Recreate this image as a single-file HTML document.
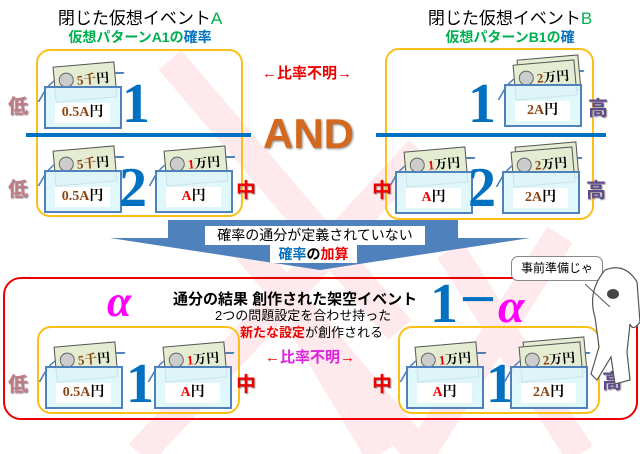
<!DOCTYPE html>
<html><head><meta charset="utf-8"><style>
*{margin:0;padding:0;box-sizing:border-box}
body{width:640px;height:454px;background:#fff;position:relative;overflow:hidden;font-family:"Liberation Sans","Noto Sans CJK JP",sans-serif}
.a{position:absolute;white-space:nowrap}
.env{position:absolute;width:78px;height:43px}
.flap{position:absolute;left:2px;top:-14px;width:70px;height:30px;border-top:2px solid #4f81bd;border-left:2px solid #4f81bd;border-radius:20px 0 0 0;transform:skewX(-30deg)}
.bill{position:absolute;left:10px;top:-22px;width:62px;height:36px;background:#e4ecd2;border:1px solid #555;transform:rotate(-5deg);font:bold 13px "Liberation Serif","Noto Serif CJK SC",serif;padding:4px 0 0 22px;color:#000}
.bill2{position:absolute;left:14px;top:-27px;width:62px;height:36px;background:#e4ecd2;border:1px solid #555;transform:rotate(-5deg)}
.bill:before{content:"";position:absolute;left:4px;top:6px;width:13px;height:13px;border-radius:50%;border:1px solid #666;background:#ccc}
.front{position:absolute;left:0;top:0;width:78px;height:43px;background:rgba(220,246,252,.88);border:2px solid #4f81bd}
.lab{position:absolute;left:11px;top:17px;width:55px;height:20px;background:#fff;text-align:center;font:bold 14px "Liberation Serif","Noto Serif CJK SC",serif;line-height:20px;color:#000}
.br{color:#8b4513}.rd{color:#e00}
.big{position:absolute;font:bold 56px "Liberation Serif",serif;color:#0070c0;line-height:1}
.lo{position:absolute;font:bold 20px "Noto Sans CJK JP",sans-serif;color:#c07a85;text-shadow:1px 1px 1px #999}
.hi{position:absolute;font:bold 20px "Noto Sans CJK JP",sans-serif;color:#5f4b8b;text-shadow:1px 1px 1px #999}
.mid{position:absolute;font:bold 20px "Noto Sans CJK JP",sans-serif;color:#e00;text-shadow:1px 1px 1px #999}
.ob{position:absolute;border:2px solid #fbbf1a;border-radius:14px}
</style></head><body>
<svg class="a" style="left:0;top:0" width="640" height="454">
<g stroke="#feeaec" stroke-width="30" stroke-linecap="butt">
<line x1="170" y1="60" x2="400" y2="330"/>
<line x1="420" y1="150" x2="140" y2="454"/>
<line x1="240" y1="240" x2="420" y2="454"/>
<line x1="450" y1="250" x2="580" y2="454"/>
<line x1="560" y1="235" x2="420" y2="454"/>
<line x1="300" y1="320" x2="380" y2="454"/>
</g>
<polygon points="168,220 458,220 458,238 530,238 320,270 110,238 168,238" fill="#4f81bd"/>
</svg>
<div class="a" style="left:0;width:280px;top:4px;text-align:center;font-size:17px;font-weight:normal">閉じた仮想イベント<span style="color:#00b050">A</span></div>
<div class="a" style="left:0;width:280px;top:27px;text-align:center;font-size:14px;font-weight:bold;color:#00b050">仮想パターンA1の<span style="color:#0070c0">確率</span></div>
<div class="a" style="left:380px;width:260px;top:4px;text-align:center;font-size:17px;font-weight:normal">閉じた仮想イベント<span style="color:#00b050">B</span></div>
<div class="a" style="left:380px;width:260px;top:27px;text-align:center;font-size:14px;font-weight:bold;color:#00b050">仮想パターンB1の<span style="color:#0070c0">確</span></div>
<div class="ob" style="left:36px;top:49px;width:207px;height:168px"></div>
<div class="ob" style="left:385px;top:48px;width:209px;height:172px"></div>
<div class="a" style="left:26px;top:133px;width:225px;height:4px;background:#0070c0"></div>
<div class="a" style="left:376px;top:133px;width:230px;height:4px;background:#0070c0"></div>
<div class="a" style="left:263px;top:110px;font:bold 42px 'Liberation Sans',sans-serif;color:#d2691e;text-shadow:1px 1px 2px #888">AND</div>
<div class="a" style="left:262px;top:62px;font-size:15px;font-weight:bold;color:#e00">←比率不明→</div>
<div class="env" style="left:44px;top:86px"><div class="flap"></div><div class="bill"><span class="br">5</span><span class="br">千</span>円</div><div class="front"></div><div class="lab"><span class="br">0.5A</span>円</div></div>
<div class="big" style="left:122px;top:76px">1</div>
<div class="lo" style="left:8px;top:90px">低</div>
<div class="env" style="left:44px;top:170px"><div class="flap"></div><div class="bill"><span class="br">5千</span>円</div><div class="front"></div><div class="lab"><span class="br">0.5A</span>円</div></div>
<div class="big" style="left:119px;top:160px">2</div>
<div class="env" style="left:155px;top:170px"><div class="flap"></div><div class="bill"><span class="rd">1</span>万円</div><div class="front"></div><div class="lab"><span class="rd">A</span>円</div></div>
<div class="lo" style="left:8px;top:173px">低</div>
<div class="mid" style="left:236px;top:174px">中</div>
<div class="env" style="left:504px;top:84px"><div class="flap"></div><div class="bill2"></div><div class="bill"><span class="br">2</span>万円</div><div class="front"></div><div class="lab"><span class="br">2A</span>円</div></div>
<div class="big" style="left:468px;top:76px">1</div>
<div class="hi" style="left:588px;top:92px">高</div>
<div class="env" style="left:395px;top:171px"><div class="flap"></div><div class="bill"><span class="rd">1</span>万円</div><div class="front"></div><div class="lab"><span class="rd">A</span>円</div></div>
<div class="big" style="left:468px;top:160px">2</div>
<div class="env" style="left:502px;top:171px"><div class="flap"></div><div class="bill2"></div><div class="bill"><span class="br">2</span>万円</div><div class="front"></div><div class="lab"><span class="br">2A</span>円</div></div>
<div class="mid" style="left:372px;top:174px">中</div>
<div class="hi" style="left:586px;top:174px">高</div>
<div class="a" style="left:205px;top:226px;width:220px;height:19px;background:#fff;text-align:center;font-size:14px;line-height:19px">確率の通分が定義されていない</div>
<div class="a" style="left:270px;top:245px;width:87px;height:18px;background:#fff;text-align:center;font-size:14px;font-weight:bold;line-height:18px"><span style="color:#0070c0">確率</span>の<span style="color:#e00">加算</span></div>
<div class="a" style="left:3px;top:277px;width:635px;height:143px;border:2px solid #e00;border-radius:18px"></div>
<div class="a" style="left:107px;top:276px;font:italic bold 44px 'Liberation Serif',serif;color:#f0f">α</div>
<div class="a" style="left:173px;top:288px;font-size:15px;font-weight:bold">通分の結果 創作された架空イベント</div>
<div class="a" style="left:215px;top:305px;font-size:13px">2つの問題設定を合わせ持った</div>
<div class="a" style="left:240px;top:322px;font-size:13px"><b style="color:#e00">新たな設定</b>が創作される</div>
<div class="a" style="left:430px;top:272px;font:bold 56px 'Liberation Serif',serif;color:#0070c0">1<span style="font-size:40px;position:relative;top:-8px">－</span><span style="font-style:italic;color:#f0f;font-size:48px">α</span></div>
<div class="ob" style="left:37px;top:326px;width:203px;height:88px"></div>
<div class="ob" style="left:398px;top:326px;width:202px;height:88px"></div>
<div class="a" style="left:265px;top:346px;font-size:15px;font-weight:bold;color:#e00">←<span style="color:#e020e0">比率不明</span>→</div>
<div class="env" style="left:45px;top:366px"><div class="flap"></div><div class="bill"><span class="br">5千</span>円</div><div class="front"></div><div class="lab"><span class="br">0.5A</span>円</div></div>
<div class="big" style="left:126px;top:356px">1</div>
<div class="env" style="left:154px;top:366px"><div class="flap"></div><div class="bill"><span class="rd">1</span>万円</div><div class="front"></div><div class="lab"><span class="rd">A</span>円</div></div>
<div class="lo" style="left:8px;top:368px">低</div>
<div class="mid" style="left:236px;top:368px">中</div>
<div class="env" style="left:406px;top:366px"><div class="flap"></div><div class="bill"><span class="rd">1</span>万円</div><div class="front"></div><div class="lab"><span class="rd">A</span>円</div></div>
<div class="big" style="left:486px;top:356px">1</div>
<div class="env" style="left:510px;top:366px"><div class="flap"></div><div class="bill2"></div><div class="bill"><span class="br">2</span>万円</div><div class="front"></div><div class="lab"><span class="br">2A</span>円</div></div>
<div class="mid" style="left:372px;top:368px">中</div>
<div class="hi" style="left:602px;top:365px">高</div>
<div class="a" style="left:511px;top:256px;width:92px;height:25px;border:1px solid #888;border-radius:7px;background:#fff;font-size:12px;text-align:center;line-height:23px">事前準備じゃ</div>
<svg class="a" style="left:585px;top:262px" width="55" height="130">
<path d="M20 8 Q40 0 52 20 L55 60 Q48 70 45 62 L42 90 L45 118 L30 122 L26 95 L12 118 L6 112 L14 85 L10 55 Q2 30 20 8Z" fill="#fff" stroke="#555" stroke-width="1.2"/>
<ellipse cx="28" cy="32" rx="6" ry="5" fill="#444"/>
<line x1="0" y1="22" x2="25" y2="45" stroke="#555"/>
</svg>
</body></html>
